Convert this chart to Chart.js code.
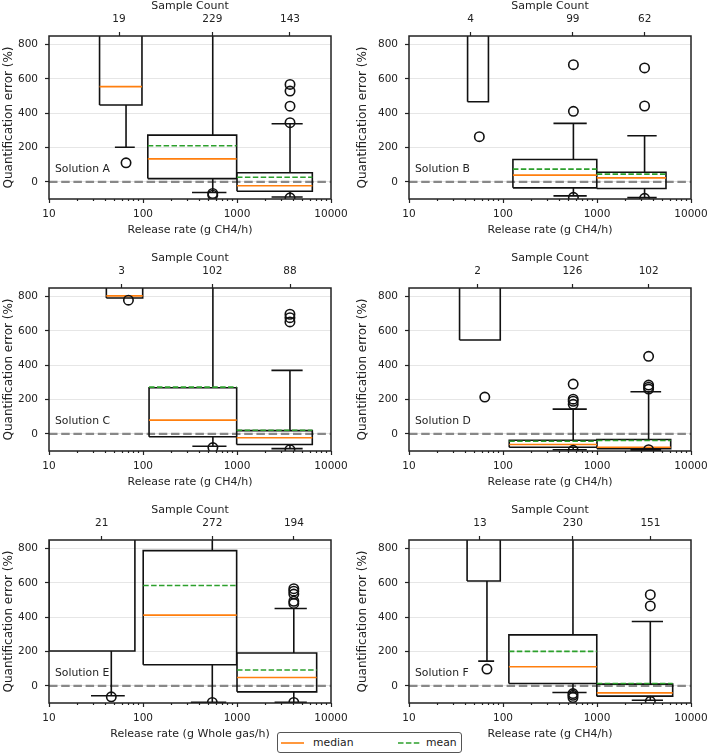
<!DOCTYPE html>
<html>
<head>
<meta charset="utf-8">
<script src="https://cdn.jsdelivr.net/npm/chart.js@4.4.1/dist/chart.umd.min.js"></script>
<style>
  body { margin: 0; background: #fff; }
  #fig { position: relative; width: 708px; height: 754px; overflow: hidden; font-family: "DejaVu Sans", sans-serif; }
  #fig canvas { position: absolute; }
  #legend { position: absolute; left: 277px; top: 732px; width: 185px; height: 21px; box-sizing: border-box;
            border: 1px solid #555; border-radius: 3px; background: #fff; color: #222; font-size: 10.8px; }
  #legend svg, #legend span { position: absolute; }
  #legend span { top: 3px; line-height: 13px; }
</style>
</head>
<body>
<div id="fig">
  <div id="legend">
    <svg style="left:3px;top:8px" width="23" height="4"><line x1="0" y1="2" x2="23" y2="2" stroke="#ff7f0e" stroke-width="1.6"/></svg>
    <span style="left:35px">median</span>
    <svg style="left:120px;top:8px" width="22" height="4"><line x1="0" y1="2" x2="22" y2="2" stroke="#2ca02c" stroke-width="1.6" stroke-dasharray="5.5 2.4"/></svg>
    <span style="left:148px">mean</span>
  </div>
</div>
<script>
// one entry per panel, three release-rate bins each
const panelNames = ["Solution A", "Solution B", "Solution C", "Solution D", "Solution E", "Solution F"];
const xTitles = [
  "Release rate (g CH4/h)", "Release rate (g CH4/h)", "Release rate (g CH4/h)",
  "Release rate (g CH4/h)", "Release rate (g Whole gas/h)", "Release rate (g CH4/h)"
];
const sampleCounts = [[19, 229, 143], [4, 99, 62], [3, 102, 88], [2, 126, 102], [21, 272, 194], [13, 230, 151]];
const countAt = [[55.6, 546, 3660], [45.2, 553, 3219], [59.3, 547, 3663], [53.7, 548, 3548], [36.3, 547, 4036], [56.8, 553, 3700]];

// box centre and width, in g/h
const binCenter = [[66, 552, 3665], [56, 561, 3207], [70, 554, 3658], [64, 558, 3540], [46, 546, 4020], [67.5, 555, 3690]];
const binWidth = [[63, 879, 5330], [28, 867, 4426], [58.5, 876, 5332], [59, 883, 5083], [72, 891, 6040], [52, 879, 5390]];

const q1 = [[448, 19, -55], [467, -35, -39], [792, -17, -62], [547, -78, -86], [203, 123, -35], [611, 14, -60]];
const median = [[555, 134, -23], [1000, 39, 23], [804, 80, -23], [1000, -62, -78], [1000, 412, 49], [1000, 111, -41]];
const q3 = [[1100, 272, 53], [1300, 130, 56], [1000, 269, 19], [1200, -37, -33], [1200, 788, 191], [1200, 297, 10]];
const mean = [[1300, 210, 27], [1200, 74, 45], [1100, 272, 21], [1100, -43, -39], [1100, 585, 92], [1100, 201, 14]];
const whiskerLow = [[202, -62, -88], [467, -82, -92], [792, -72, -86], [547, -93, -96], [-58, -96, -96], [144, -39, -84]];
const whiskerHigh = [[1500, 1900, 339], [1600, 341, 269], [1300, 1400, 370], [1300, 144, 245], [1500, 1600, 451], [1500, 1500, 375]];
const outliers = [
  [[111], [-68, -78], [568, 529, 441, 345, -93]],
  [[263], [683, 411, -90], [664, 442, -96]],
  [[779], [-80], [697, 677, 652, -92]],
  [[214], [290, 202, 190, 172, -96], [452, 284, 272, 261, -92]],
  [[-64], [-97], [566, 552, 535, 493, 480, -97]],
  [[98], [-45, -55, -68], [531, 466, -90]]
];

const yTicks = [0, 200, 400, 600, 800];
const xMajor = [10, 100, 1000, 10000];
const xTickVals = [];
[10, 100, 1000].forEach(d => { for (let k = 1; k < 10; k++) xTickVals.push(k * d); });
xTickVals.push(10000);

Chart.defaults.font.family = "DejaVu Sans";
Chart.defaults.font.size = 10.5;
Chart.defaults.color = "#222";

const framePlugin = {
  id: "frame",
  afterDatasetsDraw(chart) {
    const { ctx, chartArea: a } = chart;
    ctx.save();
    ctx.strokeStyle = "#222";
    ctx.lineWidth = 1.5;
    ctx.strokeRect(a.left, a.top, a.width, a.height);
    ctx.restore();
  }
};

const namePlugin = {
  id: "panelName",
  afterDatasetsDraw(chart, args, opts) {
    const { ctx, chartArea: a, scales } = chart;
    ctx.save();
    ctx.font = "10.8px 'DejaVu Sans'";
    ctx.fillStyle = "#222";
    ctx.textBaseline = "middle";
    ctx.fillText(opts.text, a.left + 6, scales.y.getPixelForValue(75));
    ctx.restore();
  }
};

function gap(pts, x) { pts.push({ x: x, y: null }); }

function boxLines(p) {
  const pts = [];
  binCenter[p].forEach((c, b) => {
    const w = binWidth[p][b];
    const lo = c - w / 2, hi = c + w / 2;
    pts.push({ x: lo, y: q1[p][b] }, { x: hi, y: q1[p][b] }, { x: hi, y: q3[p][b] },
             { x: lo, y: q3[p][b] }, { x: lo, y: q1[p][b] });
    gap(pts, c);
    pts.push({ x: c, y: q1[p][b] }, { x: c, y: whiskerLow[p][b] });
    gap(pts, c);
    pts.push({ x: c - w / 4, y: whiskerLow[p][b] }, { x: c + w / 4, y: whiskerLow[p][b] });
    gap(pts, c);
    pts.push({ x: c, y: q3[p][b] }, { x: c, y: whiskerHigh[p][b] });
    gap(pts, c);
    pts.push({ x: c - w / 4, y: whiskerHigh[p][b] }, { x: c + w / 4, y: whiskerHigh[p][b] });
    gap(pts, c);
  });
  return pts;
}

function levelLines(p, values) {
  const pts = [];
  binCenter[p].forEach((c, b) => {
    const w = binWidth[p][b];
    pts.push({ x: c - w / 2, y: values[p][b] }, { x: c + w / 2, y: values[p][b] });
    gap(pts, c);
  });
  return pts;
}

function outlierPoints(p) {
  const pts = [];
  binCenter[p].forEach((c, b) => outliers[p][b].forEach(v => pts.push({ x: c, y: v })));
  return pts;
}

const fig = document.getElementById("fig");
const legendBox = document.getElementById("legend");

panelNames.forEach((name, p) => {
  const col = p % 2, row = Math.floor(p / 2);
  const canvas = document.createElement("canvas");
  canvas.width = 354;
  canvas.height = 245;
  canvas.style.left = (col * 354) + "px";
  canvas.style.top = (row * 252) + "px";
  fig.insertBefore(canvas, legendBox);
  const yAxisWidth = col === 0 ? 49 : 55;

  new Chart(canvas, {
    type: "scatter",
    data: {
      datasets: [
        {
          data: outlierPoints(p), showLine: false, pointStyle: "circle", pointRadius: 4.7,
          pointBorderWidth: 1.6, pointBorderColor: "#111", pointBackgroundColor: "rgba(0,0,0,0)", clip: 0, order: 0
        },
        {
          data: levelLines(p, mean), showLine: true, pointRadius: 0, borderColor: "#2ca02c",
          borderWidth: 1.6, borderDash: [5.5, 2.4], spanGaps: false, clip: 0, order: 1
        },
        {
          data: levelLines(p, median), showLine: true, pointRadius: 0, borderColor: "#ff7f0e",
          borderWidth: 1.6, spanGaps: false, clip: 0, order: 2
        },
        {
          data: boxLines(p), showLine: true, pointRadius: 0, borderColor: "#111",
          borderWidth: 1.6, spanGaps: false, clip: 0, order: 3
        },
        {
          data: [{ x: 10, y: 0 }, { x: 10000, y: 0 }], showLine: true, pointRadius: 0, borderColor: "#888",
          borderWidth: 2.4, borderDash: [8.5, 3.7], clip: 0, order: 4
        }
      ]
    },
    options: {
      responsive: false,
      devicePixelRatio: 1,
      animation: false,
      events: [],
      layout: { padding: { left: 0, right: 354 - 282 - yAxisWidth, top: 0, bottom: 0 } },
      plugins: {
        legend: { display: false },
        tooltip: { enabled: false },
        panelName: { text: name }
      },
      scales: {
        x: {
          type: "logarithmic", position: "bottom", min: 10, max: 10000,
          afterBuildTicks: s => { s.ticks = xTickVals.map(v => ({ value: v })); },
          afterFit: s => { s.height = 46; s.paddingLeft = 0; s.paddingRight = 0; },
          ticks: {
            autoSkip: false, maxRotation: 0, padding: 5,
            callback: v => (xMajor.includes(v) ? String(v) : "")
          },
          grid: {
            drawOnChartArea: false, tickLength: 4, tickColor: "#222", tickWidth: 1.2,
            tickBorderDash: c => (c.tick && xMajor.includes(c.tick.value) ? [] : [2, 20])
          },
          border: { display: false },
          title: { display: true, text: xTitles[p], font: { size: 11 }, padding: { top: 0, bottom: 8 } }
        },
        x2: {
          type: "logarithmic", position: "top", min: 10, max: 10000,
          afterBuildTicks: s => { s.ticks = countAt[p].map(v => ({ value: v })); },
          afterFit: s => { s.height = 36; s.paddingLeft = 0; s.paddingRight = 0; },
          ticks: {
            autoSkip: false, maxRotation: 0, padding: 6,
            callback: (v, i) => String(sampleCounts[p][i])
          },
          grid: { drawOnChartArea: false, tickLength: 4, tickColor: "#222", tickWidth: 1.2 },
          border: { display: false },
          title: { display: true, text: "Sample Count", font: { size: 11 }, padding: { top: 0, bottom: 0 } }
        },
        y: {
          type: "linear", min: -100, max: 850,
          afterBuildTicks: s => { s.ticks = yTicks.map(v => ({ value: v })); },
          afterFit: s => { s.width = yAxisWidth; s.paddingTop = 0; s.paddingBottom = 0; },
          ticks: { padding: 7 },
          grid: { color: "#e6e6e6", lineWidth: 1, tickLength: 4, tickColor: "#222", tickWidth: 1.2 },
          border: { display: false },
          title: { display: true, text: "Quantification error (%)", font: { size: 12 }, padding: { top: 2, bottom: 0 } }
        }
      }
    },
    plugins: [framePlugin, namePlugin]
  });
});
</script>
</body>
</html>
